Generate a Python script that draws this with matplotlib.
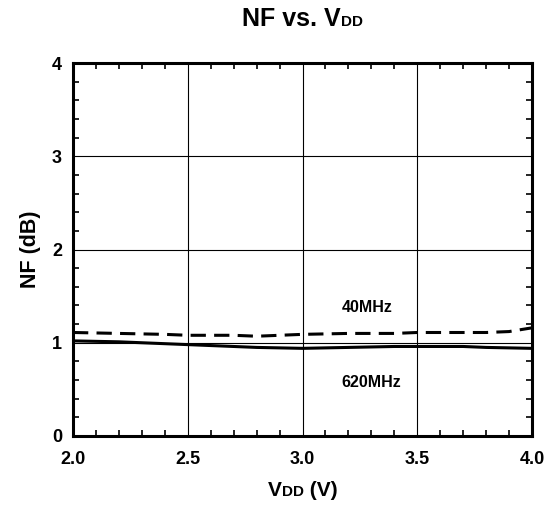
import matplotlib
matplotlib.use("Agg")
import matplotlib.pyplot as plt
from matplotlib.ticker import MultipleLocator, FormatStrFormatter

plt.rcParams['font.family'] = ['Liberation Sans', 'DejaVu Sans']
plt.rcParams['font.weight'] = 'bold'

# NF readings (dB) vs supply voltage
vdd_40 = [2.0, 2.2, 2.4, 2.5, 2.7, 2.8, 3.0, 3.2, 3.4, 3.5, 3.7, 3.8, 3.9, 4.0]
nf_40 = [1.11, 1.10, 1.09, 1.08, 1.08, 1.07, 1.09, 1.10, 1.10, 1.11, 1.11, 1.11, 1.12, 1.16]

vdd_620 = [2.0, 2.2, 2.4, 2.5, 2.7, 2.8, 3.0, 3.2, 3.4, 3.5, 3.7, 3.8, 4.0]
nf_620 = [1.02, 1.01, 0.99, 0.98, 0.96, 0.95, 0.94, 0.95, 0.96, 0.96, 0.96, 0.95, 0.94]

fig = plt.figure(figsize=(5.55, 5.07), dpi=100)
ax = fig.add_axes([73 / 555, 1 - 436 / 507, 459 / 555, 373 / 507])

ax.plot(vdd_40, nf_40, color='black', lw=2.2, ls=(0, (5, 2.7)))
ax.plot(vdd_620, nf_620, color='black', lw=2.2)

ax.set_xlim(2.0, 4.0)
ax.set_ylim(0, 4)
ax.xaxis.set_major_locator(MultipleLocator(0.5))
ax.xaxis.set_minor_locator(MultipleLocator(0.1))
ax.yaxis.set_major_locator(MultipleLocator(1))
ax.yaxis.set_minor_locator(MultipleLocator(0.2))
ax.xaxis.set_major_formatter(FormatStrFormatter('%.1f'))
ax.grid(True, which='major', color='black', lw=0.8)
ax.tick_params(which='both', direction='in', top=True, right=True, labelsize=13, width=1.2)
ax.tick_params(which='major', length=0)
ax.tick_params(axis='x', which='major', pad=11)
ax.tick_params(axis='y', which='major', pad=8)
ax.tick_params(which='minor', length=4)
for s in ax.spines.values():
    s.set_linewidth(2.2)

ax.text(3.28, 1.38, '40MHz', ha='center', va='center', fontsize=11.5, fontweight='bold')
ax.text(3.30, 0.57, '620MHz', ha='center', va='center', fontsize=11.5, fontweight='bold')

ax.set_ylabel('NF (dB)', fontsize=15.5, fontweight='bold', labelpad=8)


def mixed(x, y, parts):
    # draw text pieces side by side (big V, small DD on same baseline), centred at x
    r = fig.canvas.get_renderer()
    objs = []
    for s, size in parts:
        t = fig.text(0, y, s, fontsize=size, fontweight='bold', va='baseline', ha='left')
        objs.append(t)
    widths = [t.get_window_extent(r).width for t in objs]
    total = sum(widths)
    xpix = x * fig.bbox.width - total / 2
    for t, w in zip(objs, widths):
        t.set_x(xpix / fig.bbox.width)
        xpix += w


xc = (73 + 532) / 2 / 555
mixed(xc, 1 - 26 / 507, [('NF vs. V', 18), ('DD', 11)])
mixed(xc, 1 - 496 / 507, [('V', 15), ('DD', 11), (' (V)', 15)])
fig.savefig('out.png', dpi=100)
